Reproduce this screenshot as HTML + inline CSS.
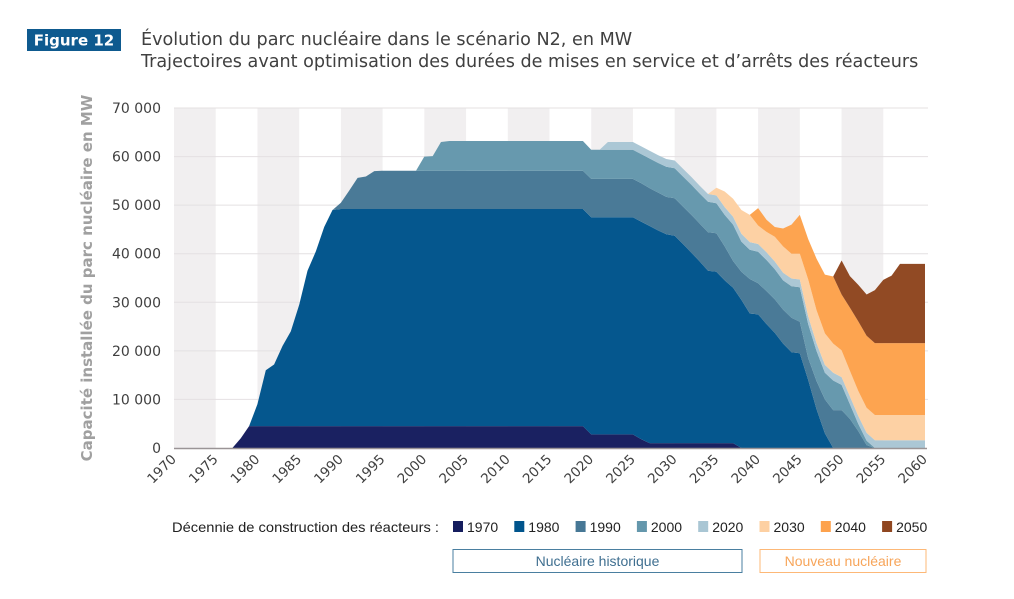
<!DOCTYPE html>
<html><head><meta charset="utf-8">
<style>
html,body{margin:0;padding:0;background:#fff;}
body{width:1014px;height:599px;overflow:hidden;font-family:"Liberation Sans","DejaVu Sans",sans-serif;}
svg{display:block;}
</style></head>
<body>
<svg id="chart" width="1014" height="599" viewBox="0 0 1014 599">
  <rect x="27" y="29" width="94" height="22" fill="#0e5a8f"/>
  <text x="74" y="45.5" text-anchor="middle" font-size="15" font-weight="bold" fill="#fff" font-family="'DejaVu Sans',sans-serif">Figure 12</text>
  <text x="141" y="45" font-size="17.6" fill="#404040" font-family="'DejaVu Sans',sans-serif">Évolution du parc nucléaire dans le scénario N2, en MW</text>
  <text x="141" y="67" font-size="17.6" fill="#404040" font-family="'DejaVu Sans',sans-serif">Trajectoires avant optimisation des durées de mises en service et d’arrêts des réacteurs</text>
  <g id="bands"></g>
  <g id="grid"></g>
  <g id="areas"></g>
  <g id="axes"></g>
  <text transform="translate(92,278) rotate(-90)" text-anchor="middle" font-size="15" font-weight="bold" fill="#a0a0a0" font-family="'DejaVu Sans',sans-serif">Capacité installée du parc nucléaire en MW</text>
  <g id="legend"></g>
  <rect x="453" y="549.5" width="289" height="23" fill="#fff" stroke="#4a7fa0" stroke-width="1"/>
  <text x="597.5" y="566" text-anchor="middle" font-size="14" fill="#3f6f90">Nucléaire historique</text>
  <rect x="760" y="549.5" width="166" height="23" fill="#fff" stroke="#fdb877" stroke-width="1"/>
  <text x="843" y="566" text-anchor="middle" font-size="14" fill="#f7a55a">Nouveau nucléaire</text>
</svg>
<script>
const years = [];
for (let y = 1970; y <= 2060; y++) years.push(y);
const seriesNames = ['1970','1980','1990','2000','2020','2030','2040','2050'];
const seriesColors = ['#151d5e','#00548c','#467795','#6497ac','#a9c6d4','#fdd0a2','#fda24d','#8f4620'];
const yTicks = [0,10000,20000,30000,40000,50000,60000,70000];
const xTicks = [1970,1975,1980,1985,1990,1995,2000,2005,2010,2015,2020,2025,2030,2035,2040,2045,2050,2055,2060];
const s1970 = [0,0,0,0,0,0,0,0,2000,
 4500,4500,4500,4500,4500,4500,4500,4500,4500,4500,4500,4500,4500,4500,4500,4500,4500,4500,4500,4500,4500,4500,4500,4500,4500,4500,4500,4500,4500,4500,4500,4500,4500,4500,4500,4500,4500,4500,4500,4500,4500,
 2800,2800,2800,2800,2800,2800,1800,
 1000,1000,1000,1000,1000,1000,1000,1000,1000,1000,1000,
 0,0,0,0,0,0,0,0,0,0,0,0,0,0,0,0,0,0,0,0,0,0,0];
const s1980 = [0,0,0,0,0,0,0,0,0,0,
 4500,11500,12700,16500,19500,25000,32000,36000,41000,44500,
 44700,44700,44700,44700,44700,44700,44700,44700,44700,44700,44700,44700,44700,44700,44700,44700,44700,44700,44700,44700,44700,44700,44700,44700,44700,44700,44700,44700,44700,44700,44700,44700,44700,44700,44700,44700,
 44800,44700,43800,43000,42700,41000,39200,37400,35500,35300,33500,32000,30500,27700,27500,25500,23700,21500,19700,19500,14000,8000,3000,
 0,0,0,0,0,0,0,0,0,0,0,0];
const s1990 = [0,0,0,0,0,0,0,0,0,0,0,0,0,0,0,0,0,0,0,0,
 1300,3800,6400,6700,7800,
 7900,7900,7900,7900,7900,7900,7900,7900,7900,7900,7900,7900,7900,7900,7900,7900,7900,7900,7900,7900,7900,7900,7900,7900,7900,7900,7900,7900,7900,7900,7900,
 7900,7800,7800,7700,7700,7700,7800,7800,7900,7900,7000,5500,5800,7100,6400,6800,6900,7000,7100,6500,4500,5800,7000,7800,7800,6000,3500,600,
 0,0,0,0,0,0,0];
const s2000 = [0,0,0,0,0,0,0,0,0,0,0,0,0,0,0,0,0,0,0,0,0,0,0,0,0,0,0,0,0,0,
 2900,3000,5900,
 6100,6100,6100,6100,6100,6100,6100,6100,6100,6100,6100,6100,6100,6100,6100,6100,6100,6000,6000,6000,6000,6000,6000,
 6000,6100,6100,6200,6200,6200,6200,6200,6300,6200,6500,7500,6200,6000,6500,6400,6200,6000,6500,7100,7000,6200,5500,6100,5200,3000,1500,900,
 0,0,0,0,0,0,0];
const s2020 = [0,0,0,0,0,0,0,0,0,0,0,0,0,0,0,0,0,0,0,0,0,0,0,0,0,0,0,0,0,0,0,0,0,0,0,0,0,0,0,0,0,0,0,0,0,0,0,0,0,0,0,0,
 1600,1600,1600,1600,1600,1600,1600,1600,1600,1600,1600,1600,1600,1600,1600,1600,1600,1600,1600,1600,1600,1600,1600,1600,1600,1600,1600,1600,1600,1600,1600,1600,1600,1600,1600,1600,1600,1600,1600];
const s2030 = [0,0,0,0,0,0,0,0,0,0,0,0,0,0,0,0,0,0,0,0,0,0,0,0,0,0,0,0,0,0,0,0,0,0,0,0,0,0,0,0,0,0,0,0,0,0,0,0,0,0,0,0,0,0,0,0,0,0,0,0,0,0,0,0,0,
 1600,3200,3700,4900,5600,3800,4200,5100,5400,5100,5300,7600,6800,6500,6000,5500,5300,
 5200,5200,5200,5200,5200,5200,5200,5200,5200];
const s2040 = [0,0,0,0,0,0,0,0,0,0,0,0,0,0,0,0,0,0,0,0,0,0,0,0,0,0,0,0,0,0,0,0,0,0,0,0,0,0,0,0,0,0,0,0,0,0,0,0,0,0,0,0,0,0,0,0,0,0,0,0,0,0,0,0,0,0,0,0,0,0,
 3600,2500,2000,3700,6000,8000,8300,10600,12100,13800,11500,13000,14300,
 14800,14800,14800,14800,14800,14800,14800,14800];
const s2050 = [0,0,0,0,0,0,0,0,0,0,0,0,0,0,0,0,0,0,0,0,0,0,0,0,0,0,0,0,0,0,0,0,0,0,0,0,0,0,0,0,0,0,0,0,0,0,0,0,0,0,0,0,0,0,0,0,0,0,0,0,0,0,0,0,0,0,0,0,0,0,0,0,0,0,0,0,0,0,0,0,
 7000,6500,7500,8500,10900,13000,13900,
 16300,16300,16300,16300];
const seriesValues = [s1970,s1980,s1990,s2000,s2020,s2030,s2040,s2050];

const NS = 'http://www.w3.org/2000/svg';
const X0 = 174, X1 = 925, Y0 = 448, Y1 = 108;
const xMin = 1970, xMax = 2060, yMax = 70000;
function xs(v){ return X0 + (v - xMin) / (xMax - xMin) * (X1 - X0); }
function ys(v){ return Y0 - v / yMax * (Y0 - Y1); }
function mk(tag, attrs, parent){ const e = document.createElementNS(NS, tag); for (const k in attrs) e.setAttribute(k, attrs[k]); parent.appendChild(e); return e; }

const bands = document.getElementById('bands');
for (let i = 0; i < xTicks.length - 1; i += 2) {
  const b = mk('rect', {x: xs(xTicks[i]), y: Y1, width: xs(xTicks[i+1]) - xs(xTicks[i]), height: Y0 - Y1, fill: '#f1eff0'}, bands);
  
  
}
const grid = document.getElementById('grid');
const axes = document.getElementById('axes');
yTicks.forEach(t => {
  if (t > 0) {
    const g = mk('line', {x1: X0, x2: X1 + 3, y1: ys(t), y2: ys(t), stroke: '#e4e0e2', 'stroke-width': 1}, grid);
    
    
  }
  const lab = mk('text', {x: 161, y: ys(t) + 5, 'text-anchor': 'end', 'font-size': 14, fill: '#404040', 'font-family': "'DejaVu Sans',sans-serif"}, axes);
  lab.textContent = t === 0 ? '0' : (t/1000) + ' 000';
  
  
});

const areas = document.getElementById('areas');
let base = years.map(() => 0);
seriesValues.forEach((vals, si) => {
  const top = vals.map((v, i) => base[i] + v);
  let d = 'M' + years.map((y, i) => xs(y).toFixed(1) + ',' + ys(top[i]).toFixed(1)).join(' L');
  for (let i = years.length - 1; i >= 0; i--) d += ' L' + xs(years[i]).toFixed(1) + ',' + ys(base[i]).toFixed(1);
  d += ' Z';
  const p = mk('path', {d: d, fill: seriesColors[si], 'fill-opacity': 0.98}, areas);
  
  
  base = top;
});

const ax = mk('line', {x1: X0, x2: X1 + 2, y1: Y0 + 0.5, y2: Y0 + 0.5, stroke: '#9a9496', 'stroke-width': 1.5}, axes);


xTicks.forEach(t => {
  const lab = mk('text', {transform: 'translate(' + (xs(t) + 3) + ',' + (Y0 + 12) + ') rotate(-45)', 'text-anchor': 'end', 'font-size': 13.5, fill: '#404040', 'font-family': "'DejaVu Sans',sans-serif"}, axes);
  lab.textContent = t;
  
  
});

const legend = document.getElementById('legend');
const lt = mk('text', {x: 439, y: 532, 'text-anchor': 'end', 'font-size': 14, fill: '#222', textLength: 267, lengthAdjust: 'spacingAndGlyphs'}, legend);
lt.textContent = 'Décennie de construction des réacteurs :';


seriesNames.forEach((n, i) => {
  const lx = 453 + i * 61.3;
  const r = mk('rect', {x: lx, y: 521, width: 10, height: 11, fill: seriesColors[i]}, legend);
  
  
  const tx = mk('text', {x: lx + 14, y: 532, 'font-size': 14, fill: '#222'}, legend);
  tx.textContent = n;
  
  
});
</script>
</body></html>
